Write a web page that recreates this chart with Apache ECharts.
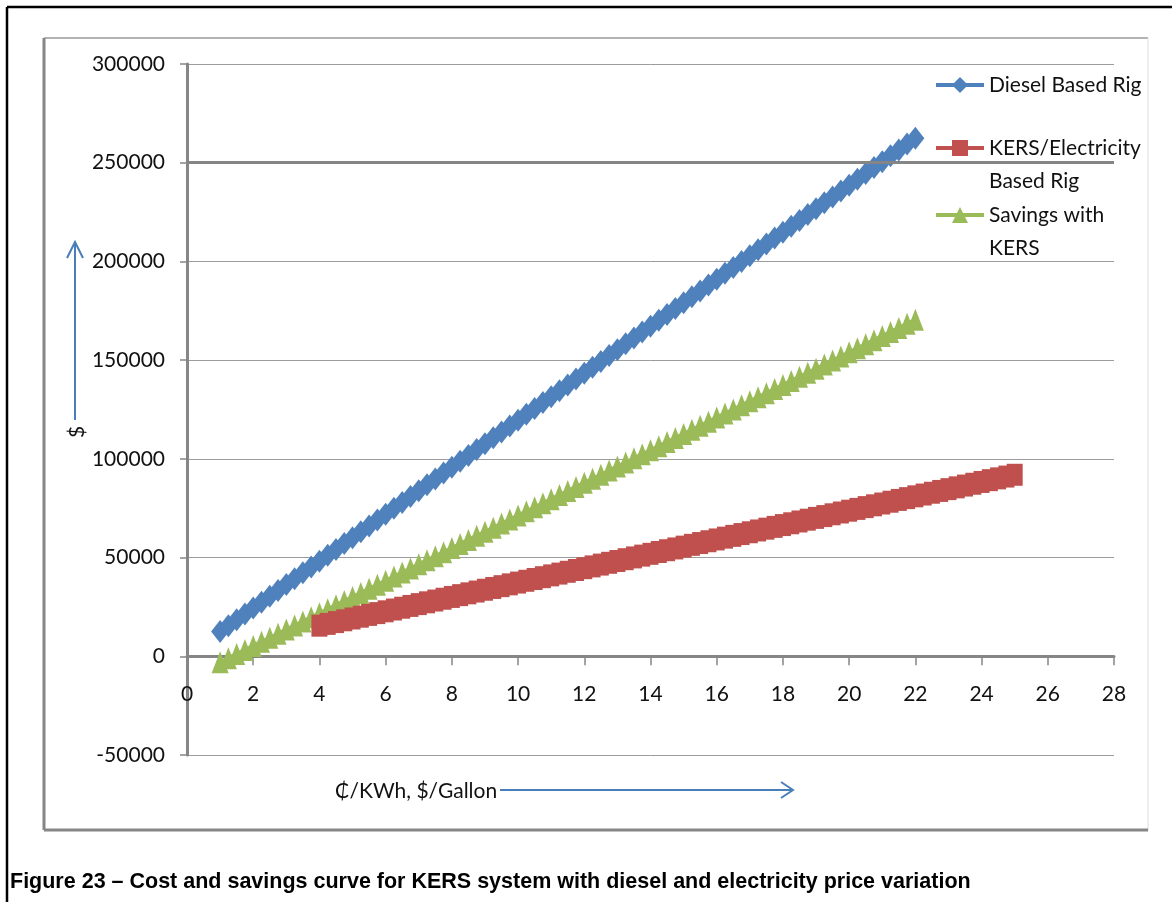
<!DOCTYPE html>
<html>
<head>
<meta charset="utf-8">
<script src="https://cdn.jsdelivr.net/npm/echarts@6/dist/echarts.min.js"></script>
<style>
  html, body { margin: 0; padding: 0; background: #ffffff; }
  #chart { width: 1172px; height: 902px; }
</style>
</head>
<body>
<div id="chart"></div>
<script>
// Price steps: diesel in $/Gallon, electricity in ₵/KWh
const dieselPrice = [1,1.25,1.5,1.75,2,2.25,2.5,2.75,3,3.25,3.5,3.75,4,4.25,4.5,4.75,5,5.25,5.5,5.75,6,6.25,6.5,6.75,7,7.25,7.5,7.75,8,8.25,8.5,8.75,9,9.25,9.5,9.75,10,10.25,10.5,10.75,11,11.25,11.5,11.75,12,12.25,12.5,12.75,13,13.25,13.5,13.75,14,14.25,14.5,14.75,15,15.25,15.5,15.75,16,16.25,16.5,16.75,17,17.25,17.5,17.75,18,18.25,18.5,18.75,19,19.25,19.5,19.75,20,20.25,20.5,20.75,21,21.25,21.5,21.75,22];
const electricityPrice = [4,4.25,4.5,4.75,5,5.25,5.5,5.75,6,6.25,6.5,6.75,7,7.25,7.5,7.75,8,8.25,8.5,8.75,9,9.25,9.5,9.75,10,10.25,10.5,10.75,11,11.25,11.5,11.75,12,12.25,12.5,12.75,13,13.25,13.5,13.75,14,14.25,14.5,14.75,15,15.25,15.5,15.75,16,16.25,16.5,16.75,17,17.25,17.5,17.75,18,18.25,18.5,18.75,19,19.25,19.5,19.75,20,20.25,20.5,20.75,21,21.25,21.5,21.75,22,22.25,22.5,22.75,23,23.25,23.5,23.75,24,24.25,24.5,24.75,25];

// Cost in $
const dieselRigCost = [12500,15475,18450,21425,24400,27375,30350,33325,36300,39275,42250,45225,48200,51175,54150,57125,60100,63075,66050,69025,72000,74975,77950,80925,83900,86875,89850,92825,95800,98775,101750,104725,107700,110675,113650,116625,119600,122575,125550,128525,131500,134475,137450,140425,143400,146375,149350,152325,155300,158275,161250,164225,167200,170175,173150,176125,179100,182075,185050,188025,191000,193975,196950,199925,202900,205875,208850,211825,214800,217775,220750,223725,226700,229675,232650,235625,238600,241575,244550,247525,250500,253475,256450,259425,262400];
const kersRigCost = [15500,16410,17320,18230,19140,20050,20960,21870,22780,23690,24600,25510,26420,27330,28240,29150,30060,30970,31880,32790,33700,34610,35520,36430,37340,38250,39160,40070,40980,41890,42800,43710,44620,45530,46440,47350,48260,49170,50080,50990,51900,52810,53720,54630,55540,56450,57360,58270,59180,60090,61000,61910,62820,63730,64640,65550,66460,67370,68280,69190,70100,71010,71920,72830,73740,74650,75560,76470,77380,78290,79200,80110,81020,81930,82840,83750,84660,85570,86480,87390,88300,89210,90120,91030,91940];
const kersSavings = [-3000,-935,1130,3195,5260,7325,9390,11455,13520,15585,17650,19715,21780,23845,25910,27975,30040,32105,34170,36235,38300,40365,42430,44495,46560,48625,50690,52755,54820,56885,58950,61015,63080,65145,67210,69275,71340,73405,75470,77535,79600,81665,83730,85795,87860,89925,91990,94055,96120,98185,100250,102315,104380,106445,108510,110575,112640,114705,116770,118835,120900,122965,125030,127095,129160,131225,133290,135355,137420,139485,141550,143615,145680,147745,149810,151875,153940,156005,158070,160135,162200,164265,166330,168395,170460];

const seriesNames = ['Diesel Based Rig', 'KERS/Electricity Based Rig', 'Savings with KERS'];
const legendText = {
  'Diesel Based Rig': 'Diesel Based Rig',
  'KERS/Electricity Based Rig': ' \nKERS/Electricity\nBased Rig',
  'Savings with KERS': ' \nSavings with\nKERS'
};
const xRange = { min: 0, max: 28, interval: 2 };
const yRange = { min: -50000, max: 300000, interval: 50000 };
const xAxisTitle = '₵/KWh, $/Gallon';
const yAxisTitle = '$';
const caption = 'Figure 23 – Cost and savings curve for KERS system with diesel and electricity price variation';

const FONT = 'Lato, "DejaVu Sans", sans-serif';
const AXIS_GREY = '#868686';
const ARROW_BLUE = '#4a7ebb';

function pairs(xs, ys) {
  return xs.map((x, i) => [x, ys[i]]);
}

const legendCommon = {
  orient: 'vertical',
  left: 934,
  padding: 0,
  itemWidth: 48,
  itemHeight: 20,
  selectedMode: false,
  formatter: name => legendText[name],
  lineStyle: { width: 4 },
  textStyle: { fontFamily: FONT, fontSize: 21, color: '#111111', lineHeight: 33 }
};

const chart = echarts.init(document.getElementById('chart'), null, { renderer: 'canvas' });

chart.setOption({
  animation: false,
  backgroundColor: '#ffffff',
  grid: { left: 187, right: 58, top: 64, bottom: 147, containLabel: false, outerBoundsMode: 'none' },
  legend: [
    Object.assign({}, legendCommon, { data: [seriesNames[0]], top: 68.5 }),
    Object.assign({}, legendCommon, { data: [seriesNames[1]], top: 98.5 }),
    Object.assign({}, legendCommon, { data: [seriesNames[2]], top: 165.5 })
  ],
  xAxis: {
    type: 'value',
    min: xRange.min, max: xRange.max, interval: xRange.interval,
    axisLine: { onZero: true, lineStyle: { color: AXIS_GREY, width: 3 } },
    axisTick: { show: true, inside: false, length: 9, lineStyle: { color: AXIS_GREY, width: 1.5 } },
    // labels sit just under the zero line, not at the bottom of the grid
    axisLabel: { margin: -71, fontFamily: FONT, fontSize: 21, color: '#111111' },
    splitLine: { show: false }
  },
  yAxis: {
    type: 'value',
    min: yRange.min, max: yRange.max, interval: yRange.interval,
    axisLine: { show: true, lineStyle: { color: AXIS_GREY, width: 3 } },
    axisTick: { show: true, inside: false, length: 7, lineStyle: { color: AXIS_GREY, width: 1.5 } },
    axisLabel: { margin: 22, fontFamily: FONT, fontSize: 21, color: '#111111', formatter: v => String(v) },
    splitLine: { show: true, lineStyle: { color: '#9c9c9c', width: 1 } }
  },
  series: [
    {
      // heavier rule drawn at the 250000 gridline
      type: 'line', name: 'gridRule', data: [], z: 1, silent: true,
      markLine: {
        silent: true, symbol: 'none', label: { show: false },
        lineStyle: { color: '#858585', width: 3, type: 'solid' },
        data: [{ yAxis: 250000 }]
      }
    },
    {
      name: seriesNames[0], type: 'line', z: 3,
      data: pairs(dieselPrice, dieselRigCost),
      symbol: 'diamond', symbolSize: [18, 23], showSymbol: true,
      itemStyle: { color: '#4f81bd' },
      lineStyle: { color: '#4f81bd', width: 4 }
    },
    {
      name: seriesNames[1], type: 'line', z: 5,
      data: pairs(electricityPrice, kersRigCost),
      symbol: 'rect', symbolSize: [16, 22], showSymbol: true,
      itemStyle: { color: '#c0504d' },
      lineStyle: { color: '#c0504d', width: 4 }
    },
    {
      name: seriesNames[2], type: 'line', z: 4,
      data: pairs(dieselPrice, kersSavings),
      symbol: 'triangle', symbolSize: [17, 22], showSymbol: true,
      itemStyle: { color: '#9bbb59' },
      lineStyle: { color: '#9bbb59', width: 4 }
    }
  ],
  graphic: [
    // page frame
    { type: 'line', shape: { x1: 7, y1: 7, x2: 1172, y2: 7 }, style: { stroke: '#000000', lineWidth: 2.5 } },
    { type: 'line', shape: { x1: 7, y1: 7, x2: 7, y2: 902 }, style: { stroke: '#000000', lineWidth: 2.5 } },
    // chart area border
    { type: 'line', shape: { x1: 44, y1: 38, x2: 1148, y2: 38 }, style: { stroke: '#9a9a9a', lineWidth: 1.5 } },
    { type: 'line', shape: { x1: 1148, y1: 38, x2: 1148, y2: 830 }, style: { stroke: '#dcdcdc', lineWidth: 1 } },
    { type: 'line', shape: { x1: 44, y1: 38, x2: 44, y2: 830 }, style: { stroke: AXIS_GREY, lineWidth: 3 } },
    { type: 'line', shape: { x1: 44, y1: 830, x2: 1148, y2: 830 }, style: { stroke: AXIS_GREY, lineWidth: 3 } },
    // y-direction arrow and title
    { type: 'line', shape: { x1: 75, y1: 420, x2: 75, y2: 242 }, style: { stroke: ARROW_BLUE, lineWidth: 2 } },
    { type: 'polyline', shape: { points: [[67, 258], [75, 242], [83, 258]] }, style: { stroke: ARROW_BLUE, lineWidth: 2, fill: null } },
    {
      type: 'text', x: 77, y: 432, rotation: Math.PI / 2,
      style: { text: yAxisTitle, fontFamily: FONT, fontSize: 21, fill: '#111111', align: 'center', verticalAlign: 'middle' }
    },
    // x-direction title and arrow
    {
      type: 'text', x: 335, y: 791,
      style: { text: xAxisTitle, fontFamily: FONT, fontSize: 21, fill: '#111111', align: 'left', verticalAlign: 'middle' }
    },
    { type: 'line', shape: { x1: 500, y1: 790, x2: 793, y2: 790 }, style: { stroke: ARROW_BLUE, lineWidth: 2 } },
    { type: 'polyline', shape: { points: [[781, 782], [793, 790], [781, 798]] }, style: { stroke: ARROW_BLUE, lineWidth: 2, fill: null } },
    // caption
    {
      type: 'text', x: 10, y: 882,
      style: { text: caption, fontFamily: '"Liberation Sans", Arial, sans-serif', fontWeight: 'bold', fontSize: 21.5, fill: '#000000', align: 'left', verticalAlign: 'middle' }
    }
  ]
});
</script>
</body>
</html>
